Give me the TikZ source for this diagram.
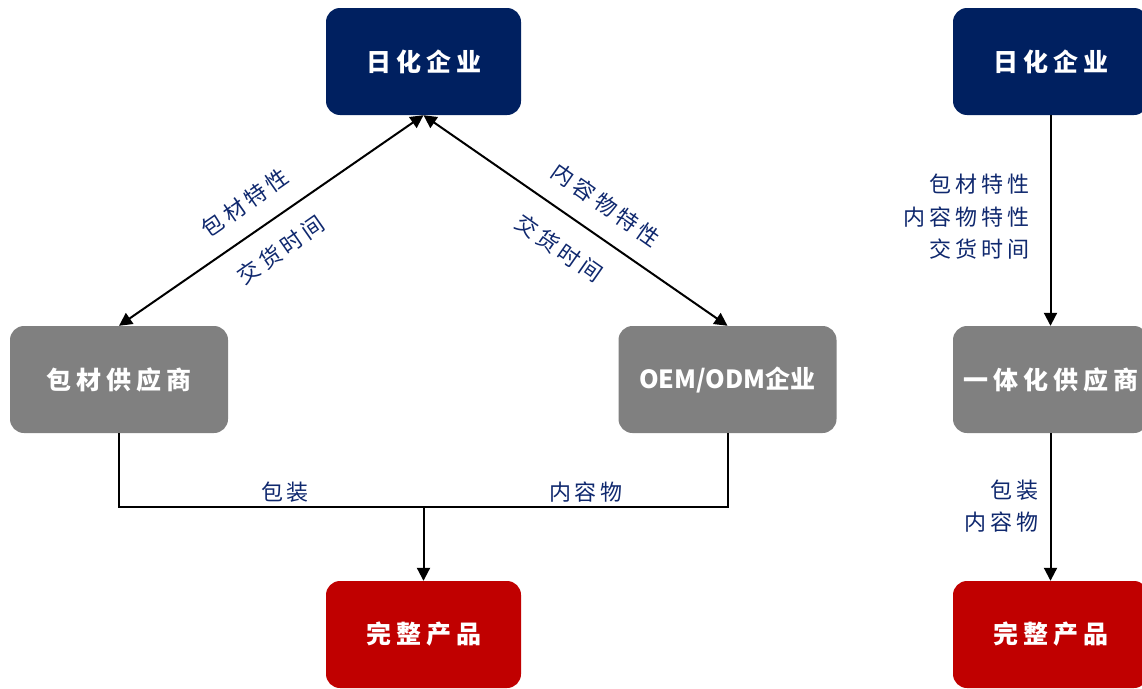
\documentclass[tikz,border=0pt]{standalone}
\usepackage{fontspec}
\setmainfont{Noto Sans CJK SC}
\newfontfamily\boxfont{Noto Sans CJK SC}[LetterSpace=20]
\newfontfamily\plainboxfont{Noto Sans CJK SC}
\newfontfamily\labfont{Noto Sans CJK SC}[LetterSpace=18]
\usetikzlibrary{arrows.meta}
\definecolor{navy}{RGB}{0,32,96}
\definecolor{boxgray}{RGB}{128,128,128}
\definecolor{boxred}{RGB}{192,0,0}
\definecolor{labblue}{RGB}{15,40,110}
\begin{document}
\begin{tikzpicture}[x=1pt,y=-1pt,
  box/.style={rounded corners=14pt, minimum width=195pt, minimum height=107pt, inner sep=0pt, text=white, font=\boxfont\bfseries\fontsize{25}{30}\selectfont},
  widebox/.style={box, minimum width=218pt},
  conn/.style={line width=2pt, black},
  lab/.style={text=labblue, inner sep=0pt, font=\labfont\fontsize{22}{32.5}\selectfont},
  >={Triangle[length=13pt,width=13pt]}]
\clip (0,0) rectangle (1142,688);
\fill[white] (0,0) rectangle (1142,688);
% left diagram
\node[box,fill=navy] (rh) at (423.5,61.5) {日化企业};
\node[widebox,fill=boxgray] (bc) at (119,379.5) {包材供应商};
\node[widebox,fill=boxgray,font=\plainboxfont\bfseries\fontsize{25}{30}\selectfont] (oem) at (727.5,379.5) {OEM/ODM企业};
\node[box,fill=boxred] (prod) at (423.5,634.5) {完整产品};
\draw[conn,<->] (rh.south) -- (bc.north);
\draw[conn,<->] (rh.south) -- (oem.north);
\coordinate (join) at (423.5,507);
\draw[conn] (bc.south) |- (join) -| (oem.south);
\draw[conn,->] (join) -- (prod.north);
\node[lab,rotate=35] (l1) at (245,203) {包材特性};
\node[lab,rotate=35] (l2) at (281,250) {交货时间};
\node[lab,rotate=-35] (l3) at (606,205) {内容物特性};
\node[lab,rotate=-35] (l4) at (559,248) {交货时间};
\node[lab] (l5) at (285,492) {包装};
\node[lab] (l6) at (586,492) {内容物};
% right diagram
\node[box,fill=navy] (rh2) at (1050.5,61.5) {日化企业};
\node[box,fill=boxgray] (sup) at (1050.5,379.5) {一体化供应商};
\node[box,fill=boxred] (prod2) at (1050.5,634.5) {完整产品};
\draw[conn,->] (rh2) -- (sup);
\draw[conn,->] (sup) -- (prod2);
\node[lab,anchor=east,align=right] (l7) at (1030,217) {包材特性\\内容物特性\\交货时间};
\node[lab,anchor=east,align=right] (l8) at (1039,506) {包装\\内容物};
\end{tikzpicture}
\end{document}
